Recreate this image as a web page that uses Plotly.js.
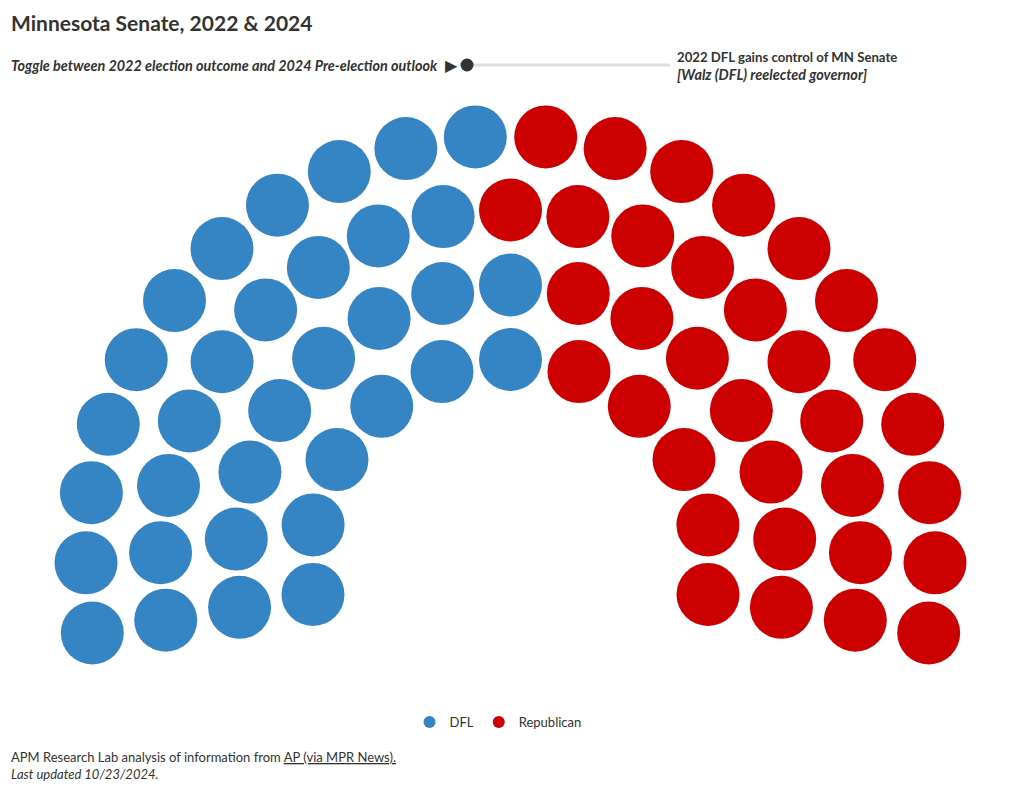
<!DOCTYPE html>
<html>
<head>
<meta charset="utf-8">
<script src="https://cdn.plot.ly/plotly-3.0.1.min.js"></script>
<style>
  html, body { margin: 0; padding: 0; background: #fff; }
  #chart { width: 1020px; height: 794px; }
</style>
</head>
<body>
<div id="chart"></div>
<script>
// ---- data ----
const parties = ['DFL', 'Republican'];
const seats = [34, 33];
const partyColors = ['#3584c4', '#cc0000'];

const titleText = 'Minnesota Senate, 2022 & 2024';
const toggleText = 'Toggle between 2022 election outcome and 2024 Pre-election outlook';
const stateLine1 = '2022 DFL gains control of MN Senate';
const stateLine2 = '[Walz (DFL) reelected governor]';
const sourceText = 'APM Research Lab analysis of information from ';
const sourceLink = 'AP (via MPR News).';
const updatedText = 'Last updated 10/23/2024.';

// ---- parliament layout (structure only) ----
const W = 1020, H = 794;
const CX = 510.5, CY = 560;           // pixel centre of the hemicycle
const rowRadius = [200.5, 275, 350, 424.5];
const rowSeats = [11, 15, 19, 22];
const startAngle = 189.9, endAngle = -9.9;
const seatSize = 63;

let seatList = [];
rowRadius.forEach((r, i) => {
  const n = rowSeats[i];
  const step = (startAngle - endAngle) / (n - 1);
  for (let j = 0; j < n; j++) {
    const th = Math.round((startAngle - j * step) * 1e6) / 1e6;
    seatList.push({ r: r, th: th });
  }
});
seatList.sort((a, b) => (b.th - a.th) || (a.r - b.r));

const traces = parties.map((p, k) => ({
  type: 'scatter', mode: 'markers', name: p,
  x: [], y: [],
  marker: { size: seatSize, color: partyColors[k], line: { width: 0 } },
  hoverinfo: 'name'
}));
let idx = 0;
parties.forEach((p, k) => {
  for (let s = 0; s < seats[k]; s++) {
    const seat = seatList[idx++];
    const rad = seat.th * Math.PI / 180;
    traces[k].x.push(seat.r * Math.cos(rad));
    traces[k].y.push(seat.r * Math.sin(rad));
  }
});

// pixel -> paper helpers
const px = x => x / W;
const py = y => 1 - y / H;

const FONT = 'Lato, "Noto Sans", sans-serif';
const TXT = '#333333';

const layout = {
  width: W, height: H,
  margin: { l: 0, r: 0, t: 0, b: 0 },
  paper_bgcolor: '#ffffff', plot_bgcolor: '#ffffff',
  font: { family: FONT, color: TXT, size: 13 },
  title: {
    text: '<b>' + titleText + '</b>',
    x: px(11), xanchor: 'left', xref: 'paper',
    y: py(24), yanchor: 'middle', yref: 'container',
    font: { family: FONT, size: 21, color: TXT }
  },
  xaxis: { range: [-CX, W - CX], visible: false, fixedrange: true },
  yaxis: { range: [-(H - CY), CY], visible: false, fixedrange: true },
  showlegend: true,
  legend: {
    orientation: 'h', x: px(498), xanchor: 'center', y: py(722), yanchor: 'middle',
    itemsizing: 'constant', font: { family: FONT, size: 13, color: TXT },
    itemwidth: 30, tracegroupgap: 0
  },
  shapes: [
    { type: 'line', xref: 'paper', yref: 'paper', x0: px(467), x1: px(670), y0: py(65), y1: py(65),
      line: { color: '#dddddd', width: 3 } },
    { type: 'circle', xref: 'paper', yref: 'paper', x0: px(460.5), x1: px(473.5), y0: py(58.5), y1: py(71.5),
      fillcolor: '#333333', line: { width: 0 } }
  ],
  annotations: [
    { xref: 'paper', yref: 'paper', x: px(9), y: py(65), xanchor: 'left', yanchor: 'middle',
      text: '<b><i>' + toggleText + '</i></b>', showarrow: false,
      font: { family: FONT, size: 14.4, color: TXT } },
    { xref: 'paper', yref: 'paper', x: px(451.5), y: py(65), xanchor: 'center', yanchor: 'middle',
      text: '▶', showarrow: false, font: { family: '"DejaVu Sans"', size: 16, color: '#333333' } },
    { xref: 'paper', yref: 'paper', x: px(676), y: py(57), xanchor: 'left', yanchor: 'middle', align: 'left',
      borderpad: 0,
      text: '<b>' + stateLine1 + '</b>', showarrow: false,
      font: { family: FONT, size: 13.2, color: TXT } },
    { xref: 'paper', yref: 'paper', x: px(676), y: py(74.5), xanchor: 'left', yanchor: 'middle', align: 'left',
      borderpad: 0,
      text: '<b><i>' + stateLine2 + '</i></b>', showarrow: false,
      font: { family: FONT, size: 14.4, color: TXT } },
    { xref: 'paper', yref: 'paper', x: px(9), y: py(765), xanchor: 'left', yanchor: 'middle', align: 'left',
      text: sourceText + '<span style="text-decoration:underline">' + sourceLink + '</span><br><i>' + updatedText + '</i>',
      showarrow: false, font: { family: FONT, size: 13, color: TXT } }
  ]
};

Plotly.newPlot('chart', traces, layout, { displayModeBar: false, staticPlot: false });
</script>
</body>
</html>
